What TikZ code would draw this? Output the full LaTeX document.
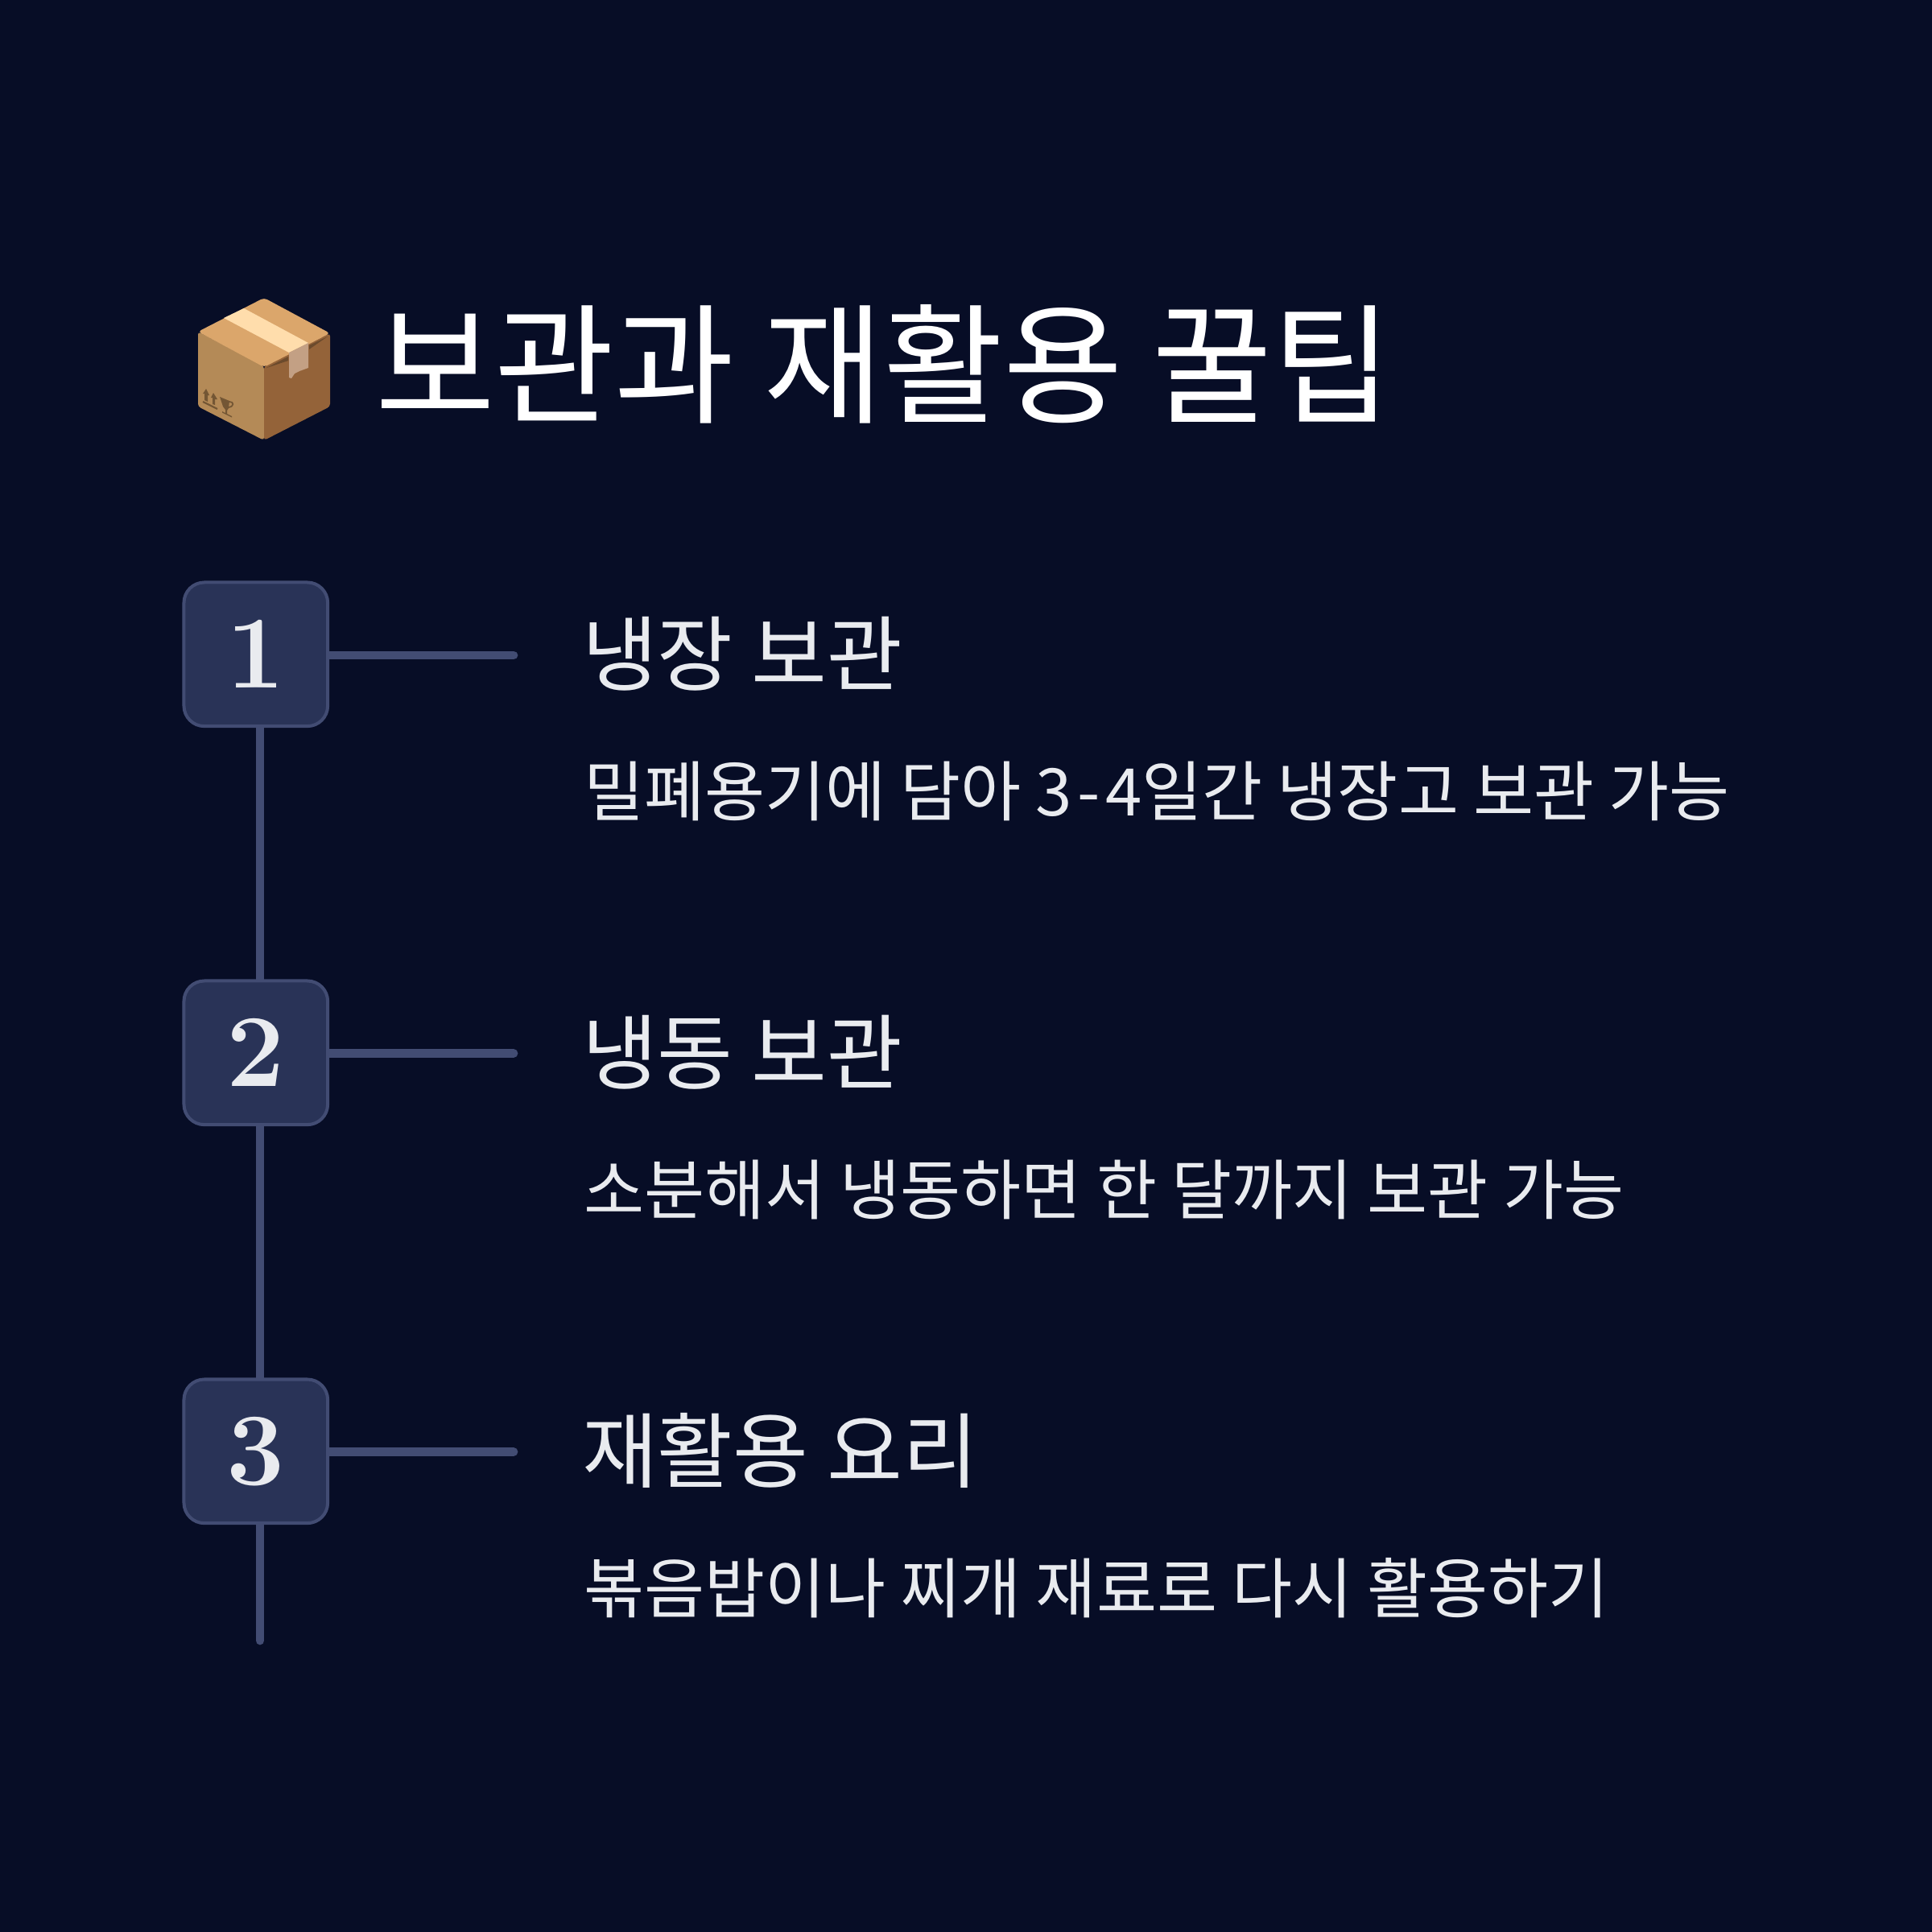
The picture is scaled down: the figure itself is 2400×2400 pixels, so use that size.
\documentclass[tikz,border=0pt]{standalone}
\usepackage{fontspec}
\usetikzlibrary{backgrounds}
\newfontfamily\krfont{Noto Sans CJK KR}
\definecolor{bgc}{HTML}{070D26}
\definecolor{boxfill}{HTML}{293357}
\definecolor{edgec}{HTML}{424C73}
\definecolor{numc}{HTML}{E9EBEF}
\definecolor{subc}{HTML}{E9EBEF}
\definecolor{boxtop}{HTML}{DBA66B}
\definecolor{boxleft}{HTML}{B48A57}
\definecolor{boxright}{HTML}{946339}
\definecolor{boxtape}{HTML}{FFDDAC}
\definecolor{boxtail}{HTML}{C3A084}
\definecolor{boxmark}{HTML}{735634}
\definecolor{boxseam}{HTML}{6B4A2C}
\tikzset{
  every node/.style={inner sep=0pt,outer sep=0pt},
  numbox/.style={draw=edgec,fill=boxfill,line width=1.14pt,rounded corners=7.2pt,minimum width=50.8pt,minimum height=50.8pt,text=numc,font=\fontsize{36.5}{37}\bfseries},
  conn/.style={draw=edgec,line width=3.05pt,line cap=round},
  titletxt/.style={anchor=base west,text=white,font=\krfont\fontsize{46}{46}\selectfont},
  headtxt/.style={anchor=base west,text=subc,font=\krfont\fontsize{29}{29}\selectfont},
  subtxt/.style={anchor=base west,text=subc,font=\krfont\fontsize{23.2}{24}\selectfont},
}
\begin{document}
\begin{tikzpicture}[x=0.01cm,y=-0.01cm]
\useasboundingbox (0,0) rectangle (2400,2400);
% package icon
\begin{scope}[line join=round]
\fill[boxleft,rounded corners=1pt] (246,412) -- (328,455) -- (328,547) -- (246,505) -- cycle;
\fill[boxright,rounded corners=1pt] (328,455) -- (410,414) -- (410,505) -- (328,547) -- cycle;
\fill[boxtop,rounded corners=1.2pt] (328,370) -- (410,414) -- (328,456) -- (246,412) -- cycle;
\fill[boxtape] (278,395) -- (303,383) -- (383,426) -- (359,438) -- cycle;
\fill[boxseam] (331,457) -- (358,443) -- (358,448) -- cycle;
\fill[boxseam] (384,429) -- (407,418) -- (384,434) -- cycle;
\fill[boxtail] (359,438) -- (383,426) -- (383,457) -- (372,461) -- (366,464) -- (362,470) -- (359,469) -- cycle;
\draw[boxmark,line width=0.6pt] (252,499) -- (270,508);
\fill[boxmark] (252,489) -- (256,483) -- (260,491) -- (258,491) -- (258,499) -- (254,497) -- (254,489) -- cycle;
\fill[boxmark] (262,494) -- (265,488) -- (270,496) -- (267,496) -- (267,503) -- (264,502) -- (264,494) -- cycle;
\fill[boxmark] (273,493) -- (285,498) -- (284,507) -- (282,510) -- (282,514) -- (288,517) -- (288,518.5) -- (276,512.5) -- (276,511) -- (280,513) -- (280,509) -- (277,505) -- cycle;
\draw[boxmark,line width=0.5pt] (285,499) .. controls (291,499) and (291,505) .. (284,506);
\end{scope}
% title
\node[titletxt] (title) at (466,513) {보관과 재활용 꿀팁};
% number boxes
\node[numbox] (n1) at (317.8,812.8) {1};
\node[numbox] (n2) at (317.8,1307.8) {2};
\node[numbox] (n3) at (317.8,1802.8) {3};
\coordinate (b1) at (317.5,814);
\coordinate (b2) at (317.5,1308.5);
\coordinate (b3) at (317.5,1803.5);
\coordinate (e1) at (638,814);
\coordinate (e2) at (638,1308.5);
\coordinate (e3) at (638,1803.5);
\coordinate (v0) at (323,1000);
\coordinate (vend) at (323,2038);
\begin{pgfonlayer}{background}
\fill[bgc] (0,0) rectangle (2400,2400);
\draw[conn] (b1) -- (e1);
\draw[conn] (b2) -- (e2);
\draw[conn] (b3) -- (e3);
\draw[conn] (v0 |- b1) -- (v0 |- b2);
\draw[conn] (v0 |- b2) -- (v0 |- b3);
\draw[conn] (v0 |- b3) -- (vend);
\end{pgfonlayer}
% texts
\node[headtxt] (h1) at (723,850) {냉장 보관};
\node[subtxt] (s1) at (725,1013) {밀폐용기에 담아 3\kern1.8pt-\kern1.8pt4일간 냉장고 보관 가능};
\node[headtxt] (h2) at (723,1345) {냉동 보관};
\node[subtxt] (s2) at (725,1508) {소분해서 냉동하면 한 달까지 보관 가능};
\node[headtxt] (h3) at (723,1840) {재활용 요리};
\node[subtxt] (s3) at (725,2003) {볶음밥이나 찌개 재료로 다시 활용하기};
\end{tikzpicture}
\end{document}
